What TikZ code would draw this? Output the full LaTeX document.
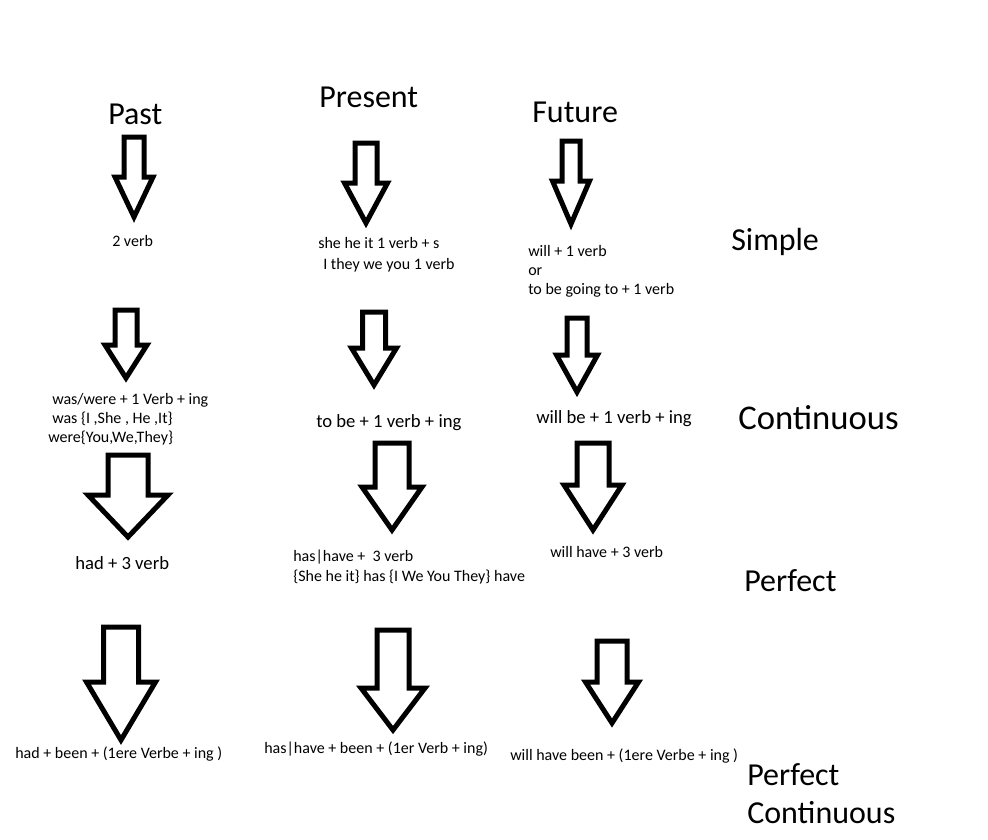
\documentclass[tikz,border=0pt]{standalone}
\usepackage{fontspec}
\setmainfont{Carlito}
\usetikzlibrary{positioning}

\begin{document}
\begin{tikzpicture}[
  x=0.75pt,y=-0.75pt,
  every node/.append style={text=black, inner sep=0pt},
  head/.style={font=\fontsize{24}{28.5}\selectfont, anchor=west, align=left},
  lbl/.style={font=\fontsize{12}{14.25}\selectfont, anchor=west, align=left},
  mid/.style={font=\fontsize{14}{17}\selectfont, anchor=west},
  arr/.style={draw=black, line width=3.75pt, line join=miter, fill=white},
]
\useasboundingbox (0,0) rectangle (988,839);
% tenses (columns)
\node[head] (past) at (108,114) {Past};
\node[head] (present) at (319,97) {Present};
\node[head] (future) at (532,112) {Future};
% aspects (rows)
\node[head] (simple) at (731,242) {Simple};
\node[head, font=\fontsize{26}{30}\selectfont] (cont) at (738,418) {Continuous};
\node[head] (perf) at (744,581) {Perfect};
\node[head] (perfcont) at (747,794) {Perfect\\Continuous};
% block arrows: x / top / shaft half width / head y / head half width / tip
\foreach \x/\t/\s/\h/\w/\b in {
    134/137/10/177/19/217, 366/143/11/183/21.5/223, 571/141/9/181/18.5/224,
    126/310/11/345/21/378, 374/312/11.5/348/22.5/385, 577/318/10/355/20.5/392,
    128/455/20/495/40/537, 392/443/17/487/30/530, 593/443/16/485/29/530,
    121/627/17.5/682/34.5/740, 393/630/16/688/32/730, 612/641/15/682/26.5/723} {
  \draw[arr] (\x-\s,\t) -- (\x+\s,\t) -- (\x+\s,\h) -- (\x+\w,\h)
    -- (\x,\b) -- (\x-\w,\h) -- (\x-\s,\h) -- cycle;
}
% simple
\node[lbl] (pasts) at (112,241) {2 verb};
\node[lbl] (pres) at (318,254.5) {she he it 1 verb + s\\[1.5pt]\hspace*{3.75pt}I they we you 1 verb};
\node[lbl] (futs) at (528,271) {will + 1 verb\\or\\to be going to + 1 verb};
% continuous
\node[lbl] (pastc) at (48,419) {\hspace*{3pt}was/were + 1 Verb + ing\\\hspace*{3pt}was \{I ,She , He ,It\}\\were\{You,We,They\}};
\node[mid] (presc) at (316,423) {to be + 1 verb + ing};
\node[mid] (futc) at (536,419) {will be + 1 verb + ing};
% perfect
\node[mid] (pastp) at (75,563) {had + 3 verb};
\node[lbl] (presp) at (293,567) {has|have +\ \ 3 verb\\[0.75pt]\{She he it\} has \{I We You They\} have};
\node[lbl] (futp) at (550,552) {will have + 3 verb};
% perfect continuous
\node[lbl] (pastpc) at (15,754) {had + been + (1ere Verbe + ing )};
\node[lbl] (prespc) at (264,749) {has|have + been + (1er Verb + ing)};
\node[lbl] (futpc) at (510,756) {will have been + (1ere Verbe + ing )};
\end{tikzpicture}
\end{document}
